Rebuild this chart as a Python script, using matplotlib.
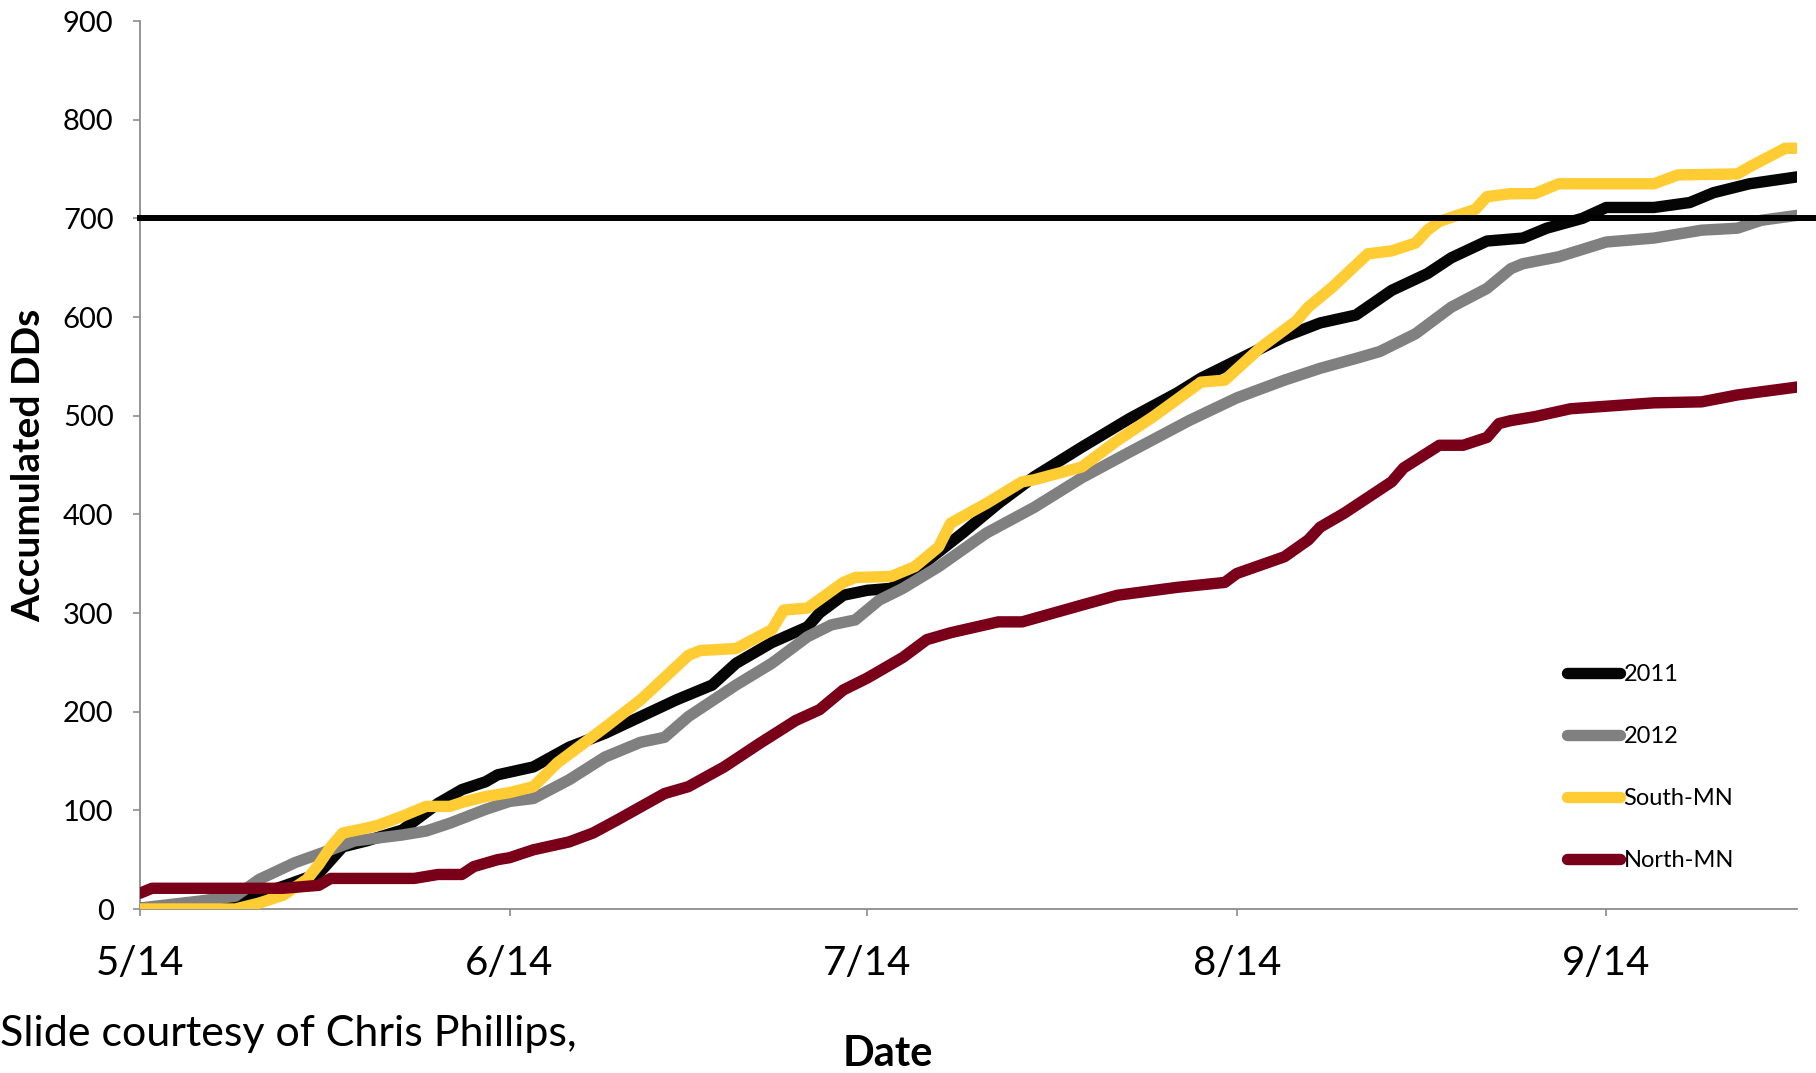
import matplotlib
matplotlib.use("Agg")
import matplotlib.pyplot as plt
import pandas as pd

plt.rcParams['font.family'] = ['Lato', 'DejaVu Sans']

start = pd.Timestamp('2012-05-14')

days_2011 = [0, 6, 9, 12, 15, 17, 19, 22, 23, 25, 27, 29, 30, 33, 36, 39, 42, 45, 48, 50, 53, 56, 57, 59,
             61, 63, 64, 65, 69, 72, 75, 79, 83, 87, 89, 92, 94, 96, 99, 102, 105, 108, 110, 113, 116,
             118, 121, 123, 127, 130, 132, 135, 139]
vals_2011 = [1, 4, 11, 23, 36, 63, 69, 80, 89, 107, 121, 129, 136, 144, 164, 178, 195, 212, 227, 249, 270,
             286, 300, 318, 323, 325, 333, 343, 381, 411, 438, 468, 497, 523, 538, 556, 568, 580, 594, 602,
             627, 644, 660, 677, 680, 690, 700, 711, 711, 716, 726, 735, 742]

days_2012 = [0, 5, 8, 10, 13, 16, 18, 22, 24, 26, 29, 31, 33, 36, 39, 42, 44, 46, 50, 53, 56, 58, 60, 62,
             64, 67, 71, 75, 79, 83, 88, 92, 96, 99, 102, 104, 107, 110, 113, 115, 116, 119, 123, 127, 131,
             134, 136, 139]
vals_2012 = [1, 8, 13, 30, 47, 60, 69, 75, 79, 87, 101, 109, 112, 131, 154, 169, 174, 195, 227, 249, 276,
             288, 293, 313, 325, 347, 381, 407, 437, 463, 495, 518, 536, 548, 558, 565, 583, 610, 629, 649,
             654, 661, 676, 680, 688, 690, 698, 703]

days_south = [0, 8, 10, 12, 14, 15, 16, 17, 19, 20, 22, 24, 26, 27, 29, 31, 33, 35, 39, 42, 46, 47, 50, 53,
              54, 56, 59, 60, 63, 65, 67, 68, 71, 74, 75, 79, 82, 85, 89, 91, 94, 97, 98, 100, 103, 105,
              107, 108, 109, 112, 113, 115, 117, 119, 127, 129, 134, 135, 138, 139]
vals_south = [0, 0, 6, 14, 30, 45, 63, 77, 82, 85, 94, 104, 104, 108, 114, 118, 124, 148, 184, 212, 257,
              262, 264, 283, 303, 305, 331, 336, 337, 347, 367, 391, 411, 433, 435, 448, 475, 499, 534, 536,
              569, 596, 610, 630, 664, 667, 675, 688, 697, 709, 722, 725, 725, 735, 735, 744, 745, 752,
              771, 771]

days_north = [0, 1, 12, 15, 16, 23, 25, 27, 28, 30, 31, 33, 36, 38, 40, 44, 46, 49, 52, 55, 57, 59, 61, 64,
              66, 68, 72, 74, 79, 82, 87, 91, 92, 96, 98, 99, 101, 103, 105, 106, 109, 111, 113, 114, 115,
              117, 120, 127, 131, 134, 139]
vals_north = [16, 21, 21, 24, 31, 31, 35, 35, 43, 50, 52, 60, 68, 77, 90, 117, 124, 144, 168, 191, 202,
              222, 234, 255, 273, 280, 291, 291, 308, 318, 326, 331, 340, 357, 374, 387, 401, 417, 433,
              447, 470, 470, 478, 492, 495, 499, 507, 513, 514, 521, 529]

series_names = ['2011', '2012', 'South-MN', 'North-MN']
series_colors = ['#050505', '#808080', '#FFCC33', '#7A0019']
threshold = 700

tick_days = [0, 31, 61, 92, 123]
tick_labels = ['5/14', '6/14', '7/14', '8/14', '9/14']
end_day = 139

W, H = 1816, 1073
fig = plt.figure(figsize=(W / 100, H / 100), dpi=100)
L, R, T, B = 140, 1797, 21, 909
ax = fig.add_axes([L / W, 1 - B / H, (R - L) / W, (B - T) / H])

def to_dates(d):
    return start + pd.to_timedelta(d, unit='D')

for name, color, d, v in zip(series_names, series_colors,
                             [days_2011, days_2012, days_south, days_north],
                             [vals_2011, vals_2012, vals_south, vals_north]):
    ax.plot(to_dates(d), v, color=color, lw=8.2, label=name,
            solid_capstyle='round', solid_joinstyle='round', zorder=3)

ax.axhline(threshold, xmin=0, xmax=(W - L) / (R - L), color='black', lw=4.3,
           clip_on=False, zorder=4)

ax.set_xlim(to_dates(0), to_dates(end_day))
ax.set_ylim(0, 900)
ax.set_yticks(range(0, 901, 100))
ax.set_xticks(to_dates(tick_days))
ax.set_xticklabels(tick_labels)

axis_gray = '#8C8C8C'
for s in ['top', 'right']:
    ax.spines[s].set_visible(False)
for s in ['left', 'bottom']:
    ax.spines[s].set_color(axis_gray)
    ax.spines[s].set_linewidth(1.3)

ax.tick_params(axis='y', direction='out', length=5, width=1.2, color=axis_gray,
               labelsize=21, pad=14)
ax.tick_params(axis='x', direction='out', length=5, width=1.2, color=axis_gray,
               labelsize=29, pad=21)

fig.text(29 / W, 1 - 465 / H, 'Accumulated DDs', rotation=90, ha='center', va='center',
         fontsize=28, fontweight='bold')
fig.text(888 / W, 1 - 1054 / H, 'Date', ha='center', va='center',
         fontsize=30, fontweight='bold')
fig.text(0 / W, 1 - 1034 / H, 'Slide courtesy of Chris Phillips,', ha='left', va='center',
         fontsize=31)

leg = ax.legend(loc='center left', bbox_to_anchor=(1567 / W, 1 - 767.5 / H),
                bbox_transform=fig.transFigure, frameon=False, fontsize=17,
                handlelength=2.25, handletextpad=0.15, labelspacing=1.74,
                borderpad=0, borderaxespad=0)

fig.savefig('out.png', dpi=100)
